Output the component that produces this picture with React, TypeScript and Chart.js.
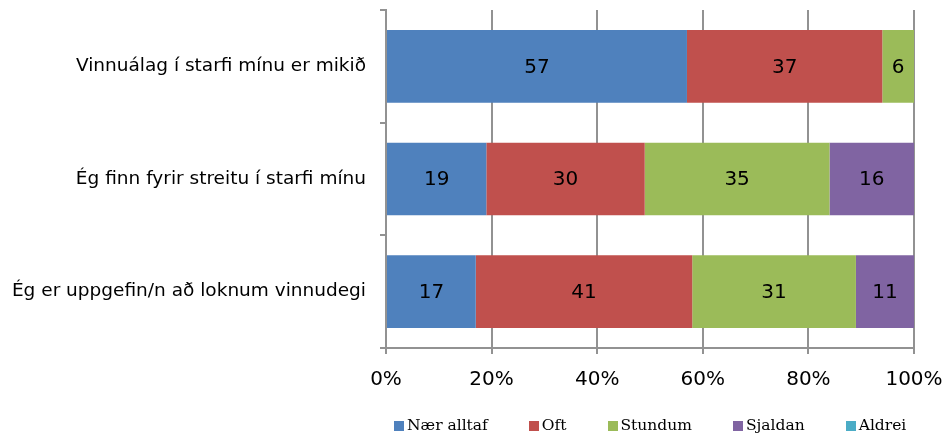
import React, { useEffect, useRef } from "react";
import { Chart, registerables } from "chart.js";

Chart.register(...registerables);

const categories = [
  "Vinnuálag í starfi mínu er mikið",
  "Ég finn fyrir streitu í starfi mínu",
  "Ég er uppgefin/n að loknum vinnudegi",
];
const seriesNames = ["Nær alltaf", "Oft", "Stundum", "Sjaldan", "Aldrei"];
const naerAlltaf = [57, 19, 17];
const oft = [37, 30, 41];
const stundum = [6, 35, 31];
const sjaldan = [0, 16, 11];
const aldrei = [0, 0, 0];
const xTicks = [0, 20, 40, 60, 80, 100];

const colors = ["#4F81BD", "#C0504D", "#9BBB59", "#8064A2", "#4BACC6"];
const GRID = "#929292";

const dataLabels = {
  id: "dataLabels",
  afterDatasetsDraw(chart: any) {
    const { ctx } = chart;
    ctx.save();
    ctx.font = '20px "DejaVu Sans"';
    ctx.fillStyle = "#000";
    ctx.textAlign = "center";
    ctx.textBaseline = "middle";
    chart.data.datasets.forEach((ds: any, i: number) => {
      const meta = chart.getDatasetMeta(i);
      meta.data.forEach((el: any, j: number) => {
        const v = ds.data[j];
        if (!v) return;
        const p = el.getCenterPoint();
        ctx.fillText(String(v), p.x, p.y + 1);
      });
    });
    ctx.restore();
  },
};

const customLegend = {
  id: "customLegend",
  afterDraw(chart: any) {
    const { ctx, chartArea } = chart;
    ctx.save();
    ctx.font = '15.5px "DejaVu Serif"';
    ctx.textBaseline = "middle";
    ctx.textAlign = "left";
    const box = 10;
    const gap = 3;
    const spacing = 41;
    const items = chart.data.datasets.map((ds: any) => ({
      label: ds.label,
      color: ds.backgroundColor,
      w: box + gap + ctx.measureText(ds.label).width,
    }));
    const total =
      items.reduce((s: number, it: any) => s + it.w, 0) + spacing * (items.length - 1);
    let x = Math.round((chartArea.left + chartArea.right) / 2 - total / 2);
    const cy = 426;
    items.forEach((it: any) => {
      ctx.fillStyle = it.color;
      ctx.fillRect(Math.round(x), cy - box / 2, box, box);
      ctx.fillStyle = "#000";
      ctx.fillText(it.label, x + box + gap, cy);
      x += it.w + spacing;
    });
    ctx.restore();
  },
};

export default function App() {
  const ref = useRef<HTMLCanvasElement>(null);
  useEffect(() => {
    if (!ref.current) return;
    const values = [naerAlltaf, oft, stundum, sjaldan, aldrei];
    const chart = new Chart(ref.current, {
      type: "bar",
      data: {
        labels: categories,
        datasets: seriesNames.map((name, i) => ({
          label: name,
          data: values[i],
          backgroundColor: colors[i],
          borderWidth: 0,
          barPercentage: 0.645,
          categoryPercentage: 1,
        })),
      },
      options: {
        indexAxis: "y",
        animation: false,
        responsive: true,
        maintainAspectRatio: false,
        layout: { padding: { top: 10, right: 32, left: 0, bottom: 0 } },
        plugins: {
          legend: { display: false },
          tooltip: { enabled: false },
        },
        scales: {
          x: {
            stacked: true,
            min: 0,
            max: 100,
            afterFit: (scale: any) => {
              scale.height = 434 - 348;
              scale.paddingLeft = 0;
              scale.paddingRight = 0;
            },
            afterBuildTicks: (scale: any) => {
              scale.ticks = xTicks.map((v) => ({ value: v }));
            },
            ticks: {
              color: "#000",
              font: { family: "DejaVu Sans", size: 20 },
              padding: 14,
              callback: (v: any) => v + "%",
            },
            grid: {
              color: GRID,
              lineWidth: 2,
              drawOnChartArea: true,
              drawTicks: true,
              tickLength: 6,
            },
            border: { display: true, color: GRID, width: 2 },
          },
          y: {
            stacked: true,
            afterFit: (scale: any) => {
              scale.width = 386;
              scale.paddingTop = 0;
              scale.paddingBottom = 0;
            },
            ticks: {
              color: "#000",
              font: { family: "DejaVu Sans", size: 18.5 },
              padding: 14,
            },
            grid: {
              color: GRID,
              lineWidth: 2,
              offset: true,
              drawOnChartArea: false,
              drawTicks: true,
              tickLength: 6,
            },
            border: { display: true, color: GRID, width: 2 },
          },
        },
      },
      plugins: [dataLabels, customLegend],
    });
    return () => chart.destroy();
  }, []);
  return (
    <div style={{ position: "fixed", left: 0, top: 0, width: 946, height: 434, background: "#fff" }}>
      <canvas ref={ref} />
    </div>
  );
}
